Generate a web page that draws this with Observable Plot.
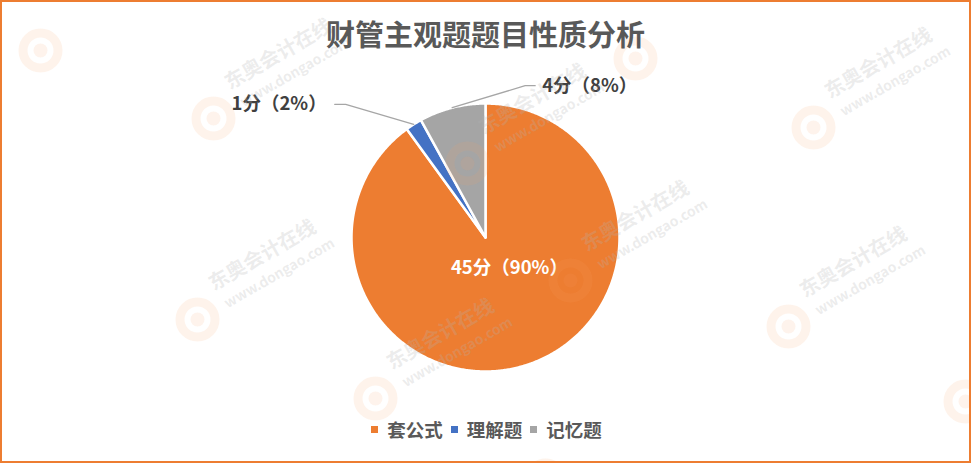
<!DOCTYPE html>
<html><head><meta charset="utf-8">
<script src="https://cdn.jsdelivr.net/npm/d3@7"></script>
<script src="https://cdn.jsdelivr.net/npm/@observablehq/plot@0.6"></script>
<style>
body{margin:0;background:#fff;}
#chart{position:relative;width:971px;height:463px;overflow:hidden;background:#fff;font-family:"Noto Sans CJK SC","Microsoft YaHei",sans-serif;}
#chart svg{position:absolute;left:0;top:0;}
#frame{position:absolute;left:0;top:0;width:971px;height:463px;box-sizing:border-box;border:2px solid #ED7D31;pointer-events:none;}
#title{position:absolute;left:0;width:971px;top:13px;text-align:center;font-size:29px;font-weight:bold;color:#595959;line-height:40px;white-space:nowrap;}
#legend{position:absolute;left:0;width:973px;top:417px;display:flex;justify-content:center;align-items:center;font-size:18.5px;font-weight:bold;color:#595959;line-height:24px;}
#legend .item{display:flex;align-items:center;margin:0 4px;}
#legend .sw{width:7px;height:7px;margin-right:9px;margin-top:1px;}
</style></head><body>
<div id="chart"></div>
<script>
// ---- data ----
const title = "财管主观题题目性质分析";
const categories = ["套公式", "理解题", "记忆题"];
const scores = [45, 1, 4];
const percents = [90, 2, 8];
const colors = ["#ED7D31", "#4472C4", "#A5A5A5"];
// watermark logo centres (decoration)
const watermarkX = [40, 213, 467, 635, 813, -43, 197, 375, 570, 788, 965, 545, -73];
const watermarkY = [50, 118, 163, 58, 127, 270, 319, 398, 280, 326, 401, 480, 470];

// ---- layout ----
const W = 971, H = 463, cx = 485, cy = 237, R = 134;
const rows = categories.map((name, i) => ({name, score: scores[i], pct: percents[i], label: `${scores[i]}分（${percents[i]}%）`}));
const arcs = d3.pie().sort(null).value(d => d.score)(rows);
const polar = (a, r) => [cx + r * Math.sin(a), cy - r * Math.cos(a)];

const slicePts = arcs.flatMap(p => {
  const pts = [{name: p.data.name, x: cx, y: cy}];
  const n = Math.max(2, Math.ceil((p.endAngle - p.startAngle) / (Math.PI / 360)));
  for (let i = 0; i <= n; ++i) {
    const [x, y] = polar(p.startAngle + (p.endAngle - p.startAngle) * i / n, R);
    pts.push({name: p.data.name, x, y});
  }
  return pts;
});

// label placement per slice: inside for the big one, leader lines for small ones
const labelLayout = {
  "套公式": {inside: true, frac: 0.24, dx: 14, dy: 0},
  "理解题": {inside: false, elbow: [-68, -20], run: -11, gap: -8},
  "记忆题": {inside: false, elbow: [73, -22], run: 10, gap: 7}
};
const leaderPts = [], labelsIn = [], labelsLeft = [], labelsRight = [];
arcs.forEach(p => {
  const L = labelLayout[p.data.name];
  const mid = (p.startAngle + p.endAngle) / 2;
  if (L.inside) {
    const [x, y] = polar(mid, R * L.frac);
    labelsIn.push({x: x + L.dx, y: y + L.dy, text: p.data.label});
  } else {
    const [x0, y0] = polar(mid, R);
    const x1 = x0 + L.elbow[0], y1 = y0 + L.elbow[1];
    const x2 = x1 + L.run;
    leaderPts.push({name: p.data.name, x: x0, y: y0}, {name: p.data.name, x: x1, y: y1}, {name: p.data.name, x: x2, y: y1});
    (L.gap < 0 ? labelsLeft : labelsRight).push({x: x2 + L.gap, y: y1, text: p.data.label});
  }
});

const wm = watermarkX.map((x, i) => ({x, y: watermarkY[i]}));
// only draw watermark text that fits fully inside the frame
const wmText = wm.filter(d => d.x + 8 > 2 && d.x + 145 < W - 2 && d.y - 100 > 2 && d.y - 5 < H - 2);
const font = '"Noto Sans CJK SC","Microsoft YaHei",sans-serif';
const labelStyle = {x: "x", y: "y", text: "text", fontSize: 18.5, fontWeight: "bold", fontFamily: font};

const plot = Plot.plot({
  width: W, height: H, margin: 0,
  x: {domain: [0, W], range: [0, W], axis: null},
  y: {domain: [0, H], range: [0, H], axis: null},
  color: {domain: categories, range: colors},
  style: {background: "transparent", fontFamily: font},
  marks: [
    Plot.line(slicePts, {x: "x", y: "y", z: "name", fill: "name", stroke: "#FFFFFF", strokeWidth: 2.5, strokeLinejoin: "round", curve: "linear-closed"}),
    Plot.line(leaderPts, {x: "x", y: "y", z: "name", stroke: "#A6A6A6", strokeWidth: 1.3}),
    Plot.text(labelsIn, {...labelStyle, textAnchor: "middle", fill: "#FFFFFF"}),
    Plot.text(labelsLeft, {...labelStyle, textAnchor: "end", fill: "#404040"}),
    Plot.text(labelsRight, {...labelStyle, textAnchor: "start", fill: "#404040"}),
    // watermark
    Plot.dot(wm, {x: "x", y: "y", r: 17.5, stroke: "#F5A064", strokeWidth: 9, strokeOpacity: 0.13, fill: "none"}),
    Plot.dot(wm, {x: "x", y: "y", r: 7, fill: "#F5A064", fillOpacity: 0.12}),
    Plot.text(wmText, {x: d => d.x + 13, y: d => d.y - 34, text: () => "东奥会计在线", rotate: -30, textAnchor: "start", fontSize: 20, fontWeight: "bold", fill: "#B4B4B4", fillOpacity: 0.25, fontFamily: font}),
    Plot.text(wmText, {x: d => d.x + 28, y: d => d.y - 15, text: () => "www.dongao.com", rotate: -30, textAnchor: "start", fontSize: 14, fontWeight: "bold", fill: "#B4B4B4", fillOpacity: 0.25, fontFamily: font})
  ]
});

const chart = document.getElementById("chart");
chart.appendChild(plot);
const t = document.createElement("div");
t.id = "title"; t.textContent = title;
chart.appendChild(t);
const lg = document.createElement("div");
lg.id = "legend";
categories.forEach((c, i) => {
  const it = document.createElement("div"); it.className = "item";
  const sw = document.createElement("span"); sw.className = "sw"; sw.style.background = colors[i];
  const tx = document.createElement("span"); tx.textContent = c;
  it.appendChild(sw); it.appendChild(tx); lg.appendChild(it);
});
chart.appendChild(lg);
const fr = document.createElement("div"); fr.id = "frame"; chart.appendChild(fr);
</script>
</body></html>
